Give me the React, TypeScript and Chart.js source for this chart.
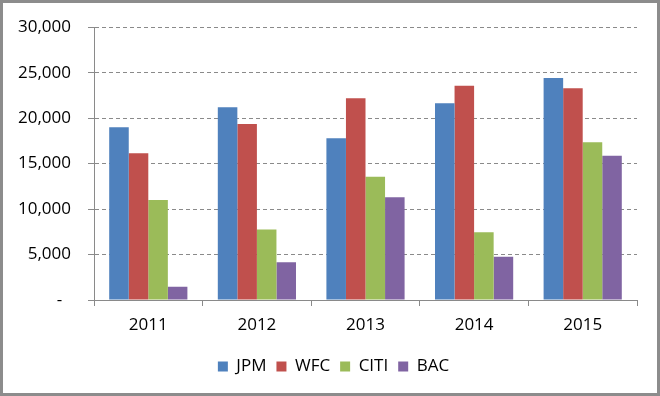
import React, { useEffect, useRef } from "react";
import { Chart, registerables } from "chart.js";

Chart.register(...registerables);

const years = ["2011", "2012", "2013", "2014", "2015"];
const jpm = [19000, 21200, 17800, 21650, 24400];
const wfc = [16150, 19350, 22200, 23550, 23300];
const citi = [11000, 7750, 13550, 7450, 17350];
const bac = [1450, 4150, 11300, 4750, 15850];
const seriesNames = ["JPM", "WFC", "CITI", "BAC"];
const seriesColors = ["#4F81BD", "#C0504D", "#9BBB59", "#8064A2"];
const yTicks = [0, 5000, 10000, 15000, 20000, 25000, 30000];

const FONT = "'Open Sans', 'DejaVu Sans', sans-serif";

const legendShift = {
  id: "legendShift",
  afterLayout(chart: any) {
    const lg = chart.legend;
    if (lg) {
      lg.left += 15;
      lg.right += 15;
    }
  },
};

export default function App() {
  const ref = useRef<HTMLCanvasElement | null>(null);

  useEffect(() => {
    if (!ref.current) return;
    const values = [jpm, wfc, citi, bac];
    const chart = new Chart(ref.current, {
      type: "bar",
      data: {
        labels: years,
        datasets: seriesNames.map((n, i) => ({
          label: n,
          data: values[i],
          backgroundColor: seriesColors[i],
          borderWidth: 0,
          categoryPercentage: 0.72,
          barPercentage: 1,
        })),
      },
      plugins: [legendShift],
      options: {
        animation: false,
        responsive: false,
        maintainAspectRatio: false,
        layout: { padding: { left: 0, right: 23, top: 22, bottom: 11 } },
        plugins: {
          tooltip: { enabled: false },
          legend: {
            position: "bottom",
            labels: {
              boxWidth: 10,
              boxHeight: 10,
              padding: 10,
              color: "#000",
              font: { family: FONT, size: 17 },
            },
          },
        },
        scales: {
          x: {
            grid: {
              drawOnChartArea: false,
              drawTicks: true,
              tickLength: 6,
              color: "#8a8a8a",
              offset: true,
            },
            border: { display: true, color: "#8a8a8a", width: 1 },
            ticks: {
              color: "#000",
              padding: 9,
              font: { family: FONT, size: 17 },
            },
            afterFit: (s: any) => {
              s.height = 48;
            },
          },
          y: {
            min: 0,
            max: 30000,
            afterBuildTicks: (s: any) => {
              s.ticks = yTicks.map((v) => ({ value: v }));
            },
            grid: {
              color: "#8a8a8a",
              tickLength: 6,
              drawTicks: true,
            },
            border: {
              display: true,
              color: "#8a8a8a",
              width: 1,
              dash: (ctx: any) =>
                ctx.tick && ctx.tick.value === 0 ? [] : [4, 3],
            },
            ticks: {
              color: "#000",
              padding: 17,
              font: { family: FONT, size: 17 },
              callback: (v: any) =>
                Number(v) === 0 ? "-  " : Number(v).toLocaleString("en-US"),
            },
            afterFit: (s: any) => {
              s.width = 94;
            },
          },
        },
      },
    });
    return () => chart.destroy();
  }, []);

  return (
    <div
      style={{
        position: "fixed",
        left: 0,
        top: 0,
        width: 660,
        height: 396,
        background: "#fff",
      }}
    >
      <canvas
        ref={ref}
        width={660}
        height={396}
        style={{ position: "absolute", left: 0, top: 0, width: 660, height: 396 }}
      />
      <div
        style={{
          position: "absolute",
          left: 0,
          top: 0,
          width: 660,
          height: 396,
          boxSizing: "border-box",
          border: "3px solid #8c8c8c",
          pointerEvents: "none",
        }}
      />
    </div>
  );
}
